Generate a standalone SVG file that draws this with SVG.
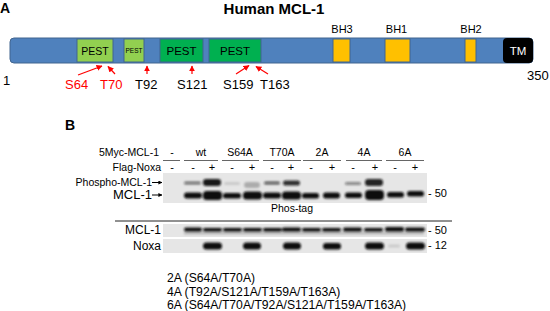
<svg xmlns="http://www.w3.org/2000/svg" width="550" height="311" viewBox="0 0 550 311">
<style>
text{font-family:"Liberation Sans",Arial,sans-serif;fill:#000}
.b{font-weight:bold}
.red{fill:#ff0000}
.dom{stroke:#41658f;stroke-width:1}
.pl{fill:#92d050}
.pd{fill:#00b050}
.bh{fill:#ffc000}
.hd{font-size:10.5px;text-anchor:middle}
.ul{stroke:#666;stroke-width:1}
.band{fill:#111}
.blot{fill:#e6e6e6}
.ra{stroke:#ff0000;stroke-width:1.2;fill:none;marker-end:url(#rh)}
.ka{stroke:#000;stroke-width:1;marker-end:url(#kh)}
</style>
<defs>
<marker id="rh" viewBox="0 0 10 10" refX="9" refY="5" markerWidth="5" markerHeight="5" orient="auto"><path d="M0,0L10,5L0,10z" fill="#ff0000"/></marker>
<marker id="kh" viewBox="0 0 10 10" refX="9" refY="5" markerWidth="4" markerHeight="4" orient="auto"><path d="M0,0L10,5L0,10z" fill="#000"/></marker>
<filter id="bl" x="-20%" y="-50%" width="140%" height="200%"><feGaussianBlur stdDeviation="0.9"/></filter>
</defs>

<text x="0" y="13" class="b" font-size="14">A</text>
<text x="274" y="14" class="b" font-size="15" text-anchor="middle">Human MCL-1</text>

<g id="protein">
<rect x="10" y="38" width="523" height="25" rx="4" fill="#4f81bd" stroke="#41658f"/>
<rect x="77" y="39" width="36" height="23" class="pl dom"/>
<text x="95" y="54.5" font-size="10.5" text-anchor="middle">PEST</text>
<rect x="124" y="39" width="20" height="23" class="pl dom"/>
<text x="134" y="53" font-size="6.5" text-anchor="middle">PEST</text>
<rect x="160" y="39" width="43" height="23" class="pd dom"/>
<text x="181.5" y="55" font-size="11.5" text-anchor="middle">PEST</text>
<rect x="209" y="39" width="52" height="23" class="pd dom"/>
<text x="235" y="55" font-size="11.5" text-anchor="middle">PEST</text>
<rect x="333" y="39" width="17" height="23" class="bh dom"/>
<rect x="385" y="39" width="25" height="23" class="bh dom"/>
<rect x="465" y="39" width="11" height="23" class="bh dom"/>
<rect x="503" y="38" width="30" height="25" rx="4" fill="#000"/>
<text x="518" y="55" font-size="11.5" text-anchor="middle" style="fill:#fff">TM</text>
</g>
<g id="domain-labels">
<text x="342" y="33" font-size="11" text-anchor="middle">BH3</text>
<text x="396.5" y="33" font-size="11" text-anchor="middle">BH1</text>
<text x="471" y="33" font-size="11" text-anchor="middle">BH2</text>
<text x="3" y="85" font-size="13">1</text>
<text x="527" y="80" font-size="13">350</text>
</g>
<g id="sites" font-size="13">
<text x="65" y="89" class="red">S64</text>
<text x="100" y="89" class="red">T70</text>
<text x="135" y="89">T92</text>
<text x="177" y="89">S121</text>
<text x="223" y="89">S159</text>
<text x="260" y="89">T163</text>
</g>
<g id="connectors">
<line x1="78" y1="75" x2="102" y2="66" class="ra"/>
<line x1="115" y1="74" x2="108" y2="66.5" class="ra"/>
<line x1="147" y1="74" x2="147" y2="66" class="ra"/>
<line x1="192" y1="74" x2="192" y2="66" class="ra"/>
<line x1="236" y1="74" x2="249" y2="65.5" class="ra"/>
<line x1="268" y1="74" x2="256" y2="66.5" class="ra"/>
<line x1="152" y1="182.5" x2="162" y2="182.5" class="ka"/>
<line x1="152" y1="195" x2="162" y2="195" class="ka"/>
</g>

<text x="65" y="130" class="b" font-size="14">B</text>

<g id="header">
<text x="159" y="156" font-size="10.5" text-anchor="end">5Myc-MCL-1</text>
<text x="161" y="171" font-size="10.5" text-anchor="end">Flag-Noxa</text>
<text x="172" y="156" class="hd">-</text>
<text x="201" y="156" class="hd">wt</text>
<text x="240" y="156" class="hd">S64A</text>
<text x="282" y="156" class="hd">T70A</text>
<text x="322" y="156" class="hd">2A</text>
<text x="364" y="156" class="hd">4A</text>
<text x="405" y="156" class="hd">6A</text>
<line x1="163" y1="160.5" x2="180" y2="160.5" class="ul"/>
<line x1="184" y1="160.5" x2="218" y2="160.5" class="ul"/>
<line x1="222" y1="160.5" x2="259" y2="160.5" class="ul"/>
<line x1="263" y1="160.5" x2="301" y2="160.5" class="ul"/>
<line x1="303" y1="160.5" x2="341" y2="160.5" class="ul"/>
<line x1="346" y1="160.5" x2="382" y2="160.5" class="ul"/>
<line x1="386" y1="160.5" x2="424" y2="160.5" class="ul"/>
<g font-size="11" text-anchor="middle">
<text x="172" y="171">-</text><text x="193" y="171">-</text><text x="212" y="171">+</text>
<text x="232" y="171">-</text><text x="252" y="171">+</text><text x="272" y="171">-</text>
<text x="291" y="171">+</text><text x="311" y="171">-</text><text x="332" y="171">+</text>
<text x="353" y="171">-</text><text x="375" y="171">+</text><text x="395" y="171">-</text>
<text x="415" y="171">+</text>
</g>
</g>

<g id="phostag-blot">
<rect x="163" y="173" width="264" height="30" class="blot"/>
<g filter="url(#bl)" class="band">
<rect x="184" y="181.5" width="17" height="3" rx="1.5" opacity="0.55"/>
<rect x="203" y="179" width="18" height="7" rx="3" opacity="0.95"/>
<rect x="224" y="182" width="16" height="3" rx="1.5" opacity="0.12"/>
<rect x="244" y="182" width="16" height="6" rx="3" opacity="0.25"/>
<rect x="264" y="181.5" width="16" height="3" rx="1.5" opacity="0.65"/>
<rect x="283" y="180.5" width="17" height="5" rx="2.5" opacity="0.85"/>
<rect x="345" y="182" width="16" height="3" rx="1.5" opacity="0.45"/>
<rect x="365" y="179" width="18" height="7" rx="3" opacity="0.9"/>
<rect x="184" y="192.5" width="18" height="6" rx="3"/>
<rect x="203" y="191" width="19" height="9" rx="3.5"/>
<rect x="223" y="193" width="18" height="5.5" rx="2.5"/>
<rect x="243" y="191.5" width="19" height="8" rx="3.5"/>
<rect x="263" y="192.5" width="18" height="6" rx="3"/>
<rect x="282" y="191.5" width="19" height="8" rx="3.5"/>
<rect x="302" y="193" width="17" height="5.5" rx="2.5"/>
<rect x="323" y="192.5" width="17" height="6" rx="3"/>
<rect x="345" y="192.5" width="17" height="5.5" rx="2.5"/>
<rect x="365" y="190" width="19" height="10" rx="4"/>
<rect x="387" y="192" width="17" height="5.5" rx="2.5"/>
<rect x="407" y="191" width="17" height="5.5" rx="2.5"/>
</g>
<text x="428" y="197" font-size="11">- 50</text>
<text x="292" y="212" font-size="10.5" text-anchor="middle">Phos-tag</text>
</g>
<g id="labels-left">
<text x="152" y="186" font-size="10.5" text-anchor="end">Phospho-MCL-1</text>
<text x="152" y="199" font-size="13" text-anchor="end">MCL-1</text>
</g>

<line x1="115" y1="221" x2="452" y2="221" stroke="#222" stroke-width="1"/>

<g id="mcl1-blot">
<rect x="163" y="224" width="264" height="13" class="blot"/>
<g filter="url(#bl)" class="band">
<rect x="184" y="227.5" width="18" height="4" rx="2"/>
<rect x="203" y="228" width="19" height="3.5" rx="1.7"/>
<rect x="223" y="228" width="19" height="3.5" rx="1.7"/>
<rect x="243" y="228" width="19" height="3.5" rx="1.7"/>
<rect x="263" y="228" width="19" height="3.5" rx="1.7"/>
<rect x="282" y="227.5" width="19" height="4" rx="2"/>
<rect x="302" y="228" width="19" height="3.5" rx="1.7"/>
<rect x="322" y="228" width="19" height="3.5" rx="1.7"/>
<rect x="343" y="227.5" width="19" height="4" rx="2"/>
<rect x="364" y="228" width="19" height="3.5" rx="1.7"/>
<rect x="385" y="227" width="19" height="4.5" rx="2"/>
<rect x="405" y="227.5" width="20" height="4" rx="2"/>
<rect x="184" y="232" width="240" height="2.5" opacity="0.2"/>
</g>
<text x="161" y="234" font-size="12" text-anchor="end">MCL-1</text>
<text x="428" y="234" font-size="11">- 50</text>
</g>

<g id="noxa-blot">
<rect x="163" y="239" width="264" height="14" class="blot"/>
<g filter="url(#bl)" class="band">
<rect x="203" y="242.5" width="19" height="7" rx="3.5"/>
<rect x="243" y="242.5" width="18" height="7" rx="3.5"/>
<rect x="283" y="242.5" width="18" height="7" rx="3.5"/>
<rect x="323" y="243" width="18" height="6.5" rx="3"/>
<rect x="365" y="242.5" width="19" height="7" rx="3.5"/>
<rect x="388" y="244.5" width="12" height="3" rx="1.5" opacity="0.12"/>
<rect x="406" y="242.5" width="19" height="7" rx="3.5"/>
</g>
<text x="161" y="250" font-size="12" text-anchor="end">Noxa</text>
<text x="428" y="249" font-size="11">- 12</text>
</g>

<g id="legend" font-size="12.2">
<text x="167" y="282">2A (S64A/T70A)</text>
<text x="167" y="295.5">4A (T92A/S121A/T159A/T163A)</text>
<text x="167" y="308.5">6A (S64A/T70A/T92A/S121A/T159A/T163A)</text>
</g>
</svg>
